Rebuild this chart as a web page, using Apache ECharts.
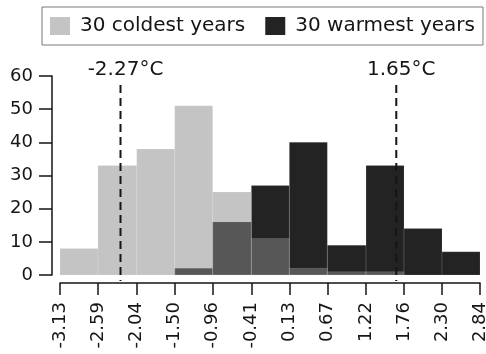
<!DOCTYPE html>
<html>
<head>
<meta charset="utf-8">
<script src="https://cdn.jsdelivr.net/npm/echarts@6/dist/echarts.min.js"></script>
<style>
  html, body { margin: 0; padding: 0; background: #fff; }
  #chart { width: 486px; height: 354px; }
</style>
</head>
<body>
<div id="chart"></div>
<script>
// Bin edges of the temperature anomaly histogram (°C)
const binEdges = [-3.13, -2.59, -2.04, -1.50, -0.96, -0.41, 0.13, 0.67, 1.22, 1.76, 2.30, 2.84];
// Counts per bin
const coldestCounts = [8, 33, 38, 51, 25, 11, 2, 1, 1, 0, 0];
const warmestCounts = [0, 0, 0, 2, 16, 27, 40, 9, 33, 14, 7];
// Mean temperature markers
const markerValues = [-2.27, 1.65];
const markerLabels = ['-2.27°C', '1.65°C'];
const yTicks = [0, 10, 20, 30, 40, 50, 60];

const FONT = 'DejaVu Sans';
const INK = '#151515';

function binData(counts) {
  return counts.map((c, i) => [binEdges[i], binEdges[i + 1], c]);
}

function renderBin(params, api) {
  const count = api.value(2);
  if (!count) return null;
  const topLeft = api.coord([api.value(0), count]);
  const bottomRight = api.coord([api.value(1), 0]);
  return {
    type: 'rect',
    shape: {
      x: topLeft[0],
      y: topLeft[1],
      width: bottomRight[0] - topLeft[0],
      height: bottomRight[1] - topLeft[1]
    },
    style: { fill: api.visual('color'), stroke: 'rgba(255,255,255,0.12)', lineWidth: 1 }
  };
}

function renderMarker(params, api) {
  const x = api.value(0);
  const top = api.coord([x, 57.3]);
  const bottom = api.coord([x, 0]);
  return {
    type: 'group',
    children: [
      {
        type: 'line',
        shape: { x1: top[0], y1: top[1], x2: bottom[0], y2: bottom[1] + 6 },
        style: { stroke: INK, lineWidth: 2, lineDash: [8, 5] }
      },
      {
        type: 'text',
        style: {
          x: top[0] + 5,
          y: top[1] - 15,
          text: markerLabels[params.dataIndex],
          fill: INK,
          font: '20px "' + FONT + '"',
          align: 'center',
          verticalAlign: 'middle'
        }
      }
    ]
  };
}

const chart = echarts.init(document.getElementById('chart'), null, { renderer: 'canvas' });

chart.setOption({
  animation: false,
  textStyle: { fontFamily: FONT },
  grid: { left: 60, right: 6, top: 76, bottom: 79, outerBoundsMode: 'none' },
  legend: {
    data: ['30 coldest years', '30 warmest years'],
    left: 42,
    top: 7,
    padding: [9, 8, 9, 8],
    borderColor: '#7a7a7a',
    borderWidth: 1,
    itemWidth: 20,
    itemHeight: 18,
    itemGap: 20,
    icon: 'rect',
    itemStyle: { borderWidth: 0 },
    textStyle: { fontFamily: FONT, fontSize: 20, color: INK, padding: [0, 0, 0, 5] },
    selectedMode: false
  },
  xAxis: {
    type: 'value',
    min: binEdges[0],
    max: binEdges[binEdges.length - 1],
    offset: 8,
    splitLine: { show: false },
    axisLine: { show: true, onZero: false, lineStyle: { color: INK, width: 1.5 } },
    axisTick: { show: true, length: 12, customValues: binEdges, lineStyle: { color: INK, width: 1.5 } },
    axisLabel: {
      customValues: binEdges,
      rotate: 90,
      margin: 19,
      fontSize: 18,
      fontFamily: FONT,
      color: INK,
      formatter: v => v.toFixed(2)
    }
  },
  yAxis: {
    type: 'value',
    min: 0,
    max: 60,
    interval: 10,
    offset: 8,
    splitLine: { show: false },
    axisLine: { show: true, onZero: false, lineStyle: { color: INK, width: 1.5 } },
    axisTick: { show: true, length: 13, lineStyle: { color: INK, width: 1.5 } },
    axisLabel: {
      margin: 19,
      fontSize: 18,
      fontFamily: FONT,
      color: INK,
      customValues: yTicks
    }
  },
  series: [
    {
      name: '30 warmest years',
      type: 'custom',
      renderItem: renderBin,
      encode: { x: [0, 1], y: 2 },
      itemStyle: { color: '#232323' },
      data: binData(warmestCounts),
      z: 2
    },
    {
      name: '30 coldest years',
      type: 'custom',
      renderItem: renderBin,
      encode: { x: [0, 1], y: 2 },
      itemStyle: { color: 'rgba(138,138,138,0.505)' },
      data: binData(coldestCounts),
      z: 3
    },
    {
      name: 'markers',
      type: 'custom',
      renderItem: renderMarker,
      encode: { x: 0 },
      data: markerValues.map(v => [v]),
      clip: false,
      z: 5
    }
  ]
});
</script>
</body>
</html>
